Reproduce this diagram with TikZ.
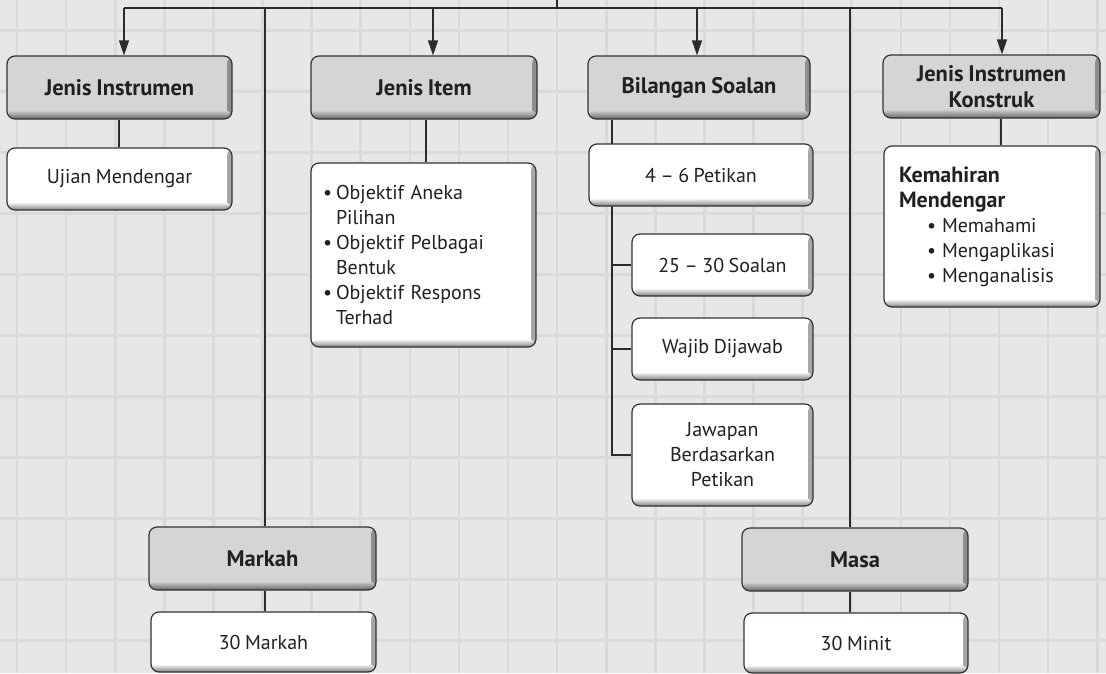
\documentclass[tikz,border=0pt]{standalone}
\usepackage{fontspec}
\setmainfont{PT Sans}[WordSpace=0.85]
\usetikzlibrary{arrows.meta,calc}
\definecolor{bgc}{HTML}{E6E7E9}
\definecolor{gridc}{HTML}{D9DADC}
\definecolor{hdrfill}{HTML}{D4D5D7}
\definecolor{bdr}{HTML}{333333}
\definecolor{txt}{HTML}{231F20}
\definecolor{lnc}{HTML}{2B2B2B}
\pgfdeclarelayer{back}
\pgfsetlayers{back,main}
\begin{document}
\begin{tikzpicture}[x=1pt,y=-1pt,
  box/.style={draw=bdr, line width=1.2pt, rounded corners=8pt, text=txt,
    font=\fontsize{20}{25}\selectfont, inner sep=0pt},
  hdr/.style={box, fill=hdrfill, font=\fontsize{22.5}{26}\selectfont\bfseries, align=center,
    path picture={
      \shade[left color=hdrfill, right color=black!45]
        ([xshift=-5pt]path picture bounding box.south east) rectangle (path picture bounding box.north east);
      \shade[top color=hdrfill, bottom color=black!60]
        ([yshift=9pt]path picture bounding box.south west) rectangle (path picture bounding box.south east);}},
  wbox/.style={box, fill=white, align=center,
    path picture={
      \shade[left color=white, right color=black!35]
        ([xshift=-5pt]path picture bounding box.south east) rectangle (path picture bounding box.north east);
      \shade[top color=white, bottom color=black!50]
        ([yshift=8pt]path picture bounding box.south west) rectangle (path picture bounding box.south east);}},
  conn/.style={draw=lnc, line width=1.2pt},
  arr/.style={conn, -{Triangle[width=10pt,length=15pt]}}
]
\useasboundingbox (0,0) rectangle (1106,673);

% header boxes
\node[hdr, minimum width=225pt, minimum height=63pt] (ji) at (119.5,87.5) {Jenis Instrumen};
\node[hdr, minimum width=226pt, minimum height=63pt] (jitem) at (424,87.5) {Jenis Item};
\node[hdr, minimum width=222pt, minimum height=63pt] (bil) at (699,87.5) {Bilangan Soalan};
\node[hdr, minimum width=217pt, minimum height=63pt] (jik) at (991.5,86.5) {Jenis Instrumen\\Konstruk};
\node[hdr, minimum width=227pt, minimum height=63pt] (mark) at (262.5,558.5) {Markah};
\node[hdr, minimum width=226pt, minimum height=63pt] (masa) at (855,559.5) {Masa};

% content boxes
\node[wbox, minimum width=225pt, minimum height=62pt] (ujian) at (119.5,179) {Ujian Mendengar};
\node[wbox, minimum width=225pt, minimum height=184pt, text width=201pt, inner xsep=12pt, align=left] (obj) at (423.5,255)
  {\makebox[13pt][l]{•}Objektif Aneka\\\hspace*{13pt}Pilihan\\\makebox[13pt][l]{•}Objektif Pelbagai\\\hspace*{13pt}Bentuk\\\makebox[13pt][l]{•}Objektif Respons\\\hspace*{13pt}Terhad};
\node[wbox, minimum width=224pt, minimum height=62pt] (pet) at (701,175) {4 – 6 Petikan};
\node[wbox, minimum width=181pt, minimum height=62pt] (soal) at (722.5,265) {25 – 30 Soalan};
\node[wbox, minimum width=181pt, minimum height=62pt] (wajib) at (722.5,349) {Wajib Dijawab};
\node[wbox, minimum width=181pt, minimum height=102pt] (jaw) at (722.5,455) {Jawapan\\Berdasarkan\\Petikan};
\node[wbox, minimum width=216pt, minimum height=161pt, text width=186pt, inner xsep=15pt, align=left] (kem) at (992,226.5)
  {{\fontsize{22}{25}\selectfont\bfseries Kemahiran}\\{\fontsize{22}{25}\selectfont\bfseries Mendengar}\\\hspace*{28pt}\makebox[15pt][l]{•}Memahami\\\hspace*{28pt}\makebox[15pt][l]{•}Mengaplikasi\\\hspace*{28pt}\makebox[15pt][l]{•}Menganalisis};
\node[wbox, minimum width=225pt, minimum height=60pt] (m30) at (263.5,642) {30 Markah};
\node[wbox, minimum width=224pt, minimum height=60pt] (minit) at (856,643) {30 Minit};

% coordinates for connectors
\coordinate (top0) at (557,0);
\coordinate (tm) at (557,8);
\coordinate (tl) at (124,8);
\coordinate (tr) at (1002,8);
\coordinate (t2) at (433,8);
\coordinate (t3) at (697,8);
\coordinate (vl) at (265,8);
\coordinate (vr) at (850,8);
\coordinate (xi) at (426,0);
\coordinate (xb) at (612,0);
\coordinate (xk) at (1001,0);
\coordinate (xj) at (119,0);

\begin{pgfonlayer}{back}
  \fill[bgc] (0,0) rectangle (1106,673);
  \foreach \i in {0,...,22} \draw[gridc, line width=2.6pt] ({17+49.1*\i},0) -- ({17+49.1*\i},673);
  \foreach \j in {0,...,10} \draw[gridc, line width=2.6pt] (0,{30.5+61*\j}) -- (1106,{30.5+61*\j});

  \draw[conn] (tl) -- (tr);
  \draw[conn] (top0) -- (tm);
  \draw[arr] (tl) -- (tl |- ji.north);
  \draw[arr] (t2) -- (t2 |- jitem.north);
  \draw[arr] (t3) -- (t3 |- bil.north);
  \draw[arr] (tr) -- (tr |- jik.north);
  \draw[conn] (vl) -- (vl |- mark.north);
  \draw[conn] (vr) -- (vr |- masa.north);

  \draw[conn] (xj |- ji.south) -- (xj |- ujian.north);
  \draw[conn] (xi |- jitem.south) -- (xi |- obj.north);
  \draw[conn] (xk |- jik.south) -- (xk |- kem.north);
  \draw[conn] (vl |- mark.south) -- (vl |- m30.north);
  \draw[conn] (vr |- masa.south) -- (vr |- minit.north);

  \draw[conn] (xb |- bil.south) -- (xb |- jaw.west) -- (jaw.west);
  \draw[conn] (xb |- soal.west) -- (soal.west);
  \draw[conn] (xb |- wajib.west) -- (wajib.west);
\end{pgfonlayer}
\end{tikzpicture}
\end{document}
